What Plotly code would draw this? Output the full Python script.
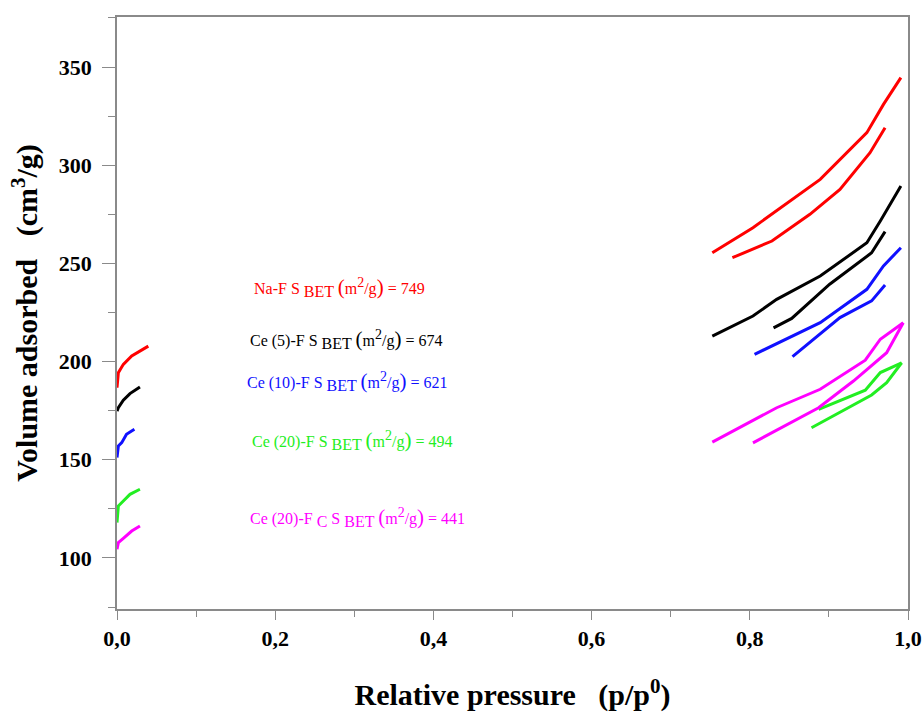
import plotly.graph_objects as go

# Low-pressure branches
lp_x = {
    "red": [0.0, 0.0017, 0.008, 0.0186, 0.0396],
    "black": [0.0, 0.0017, 0.008, 0.0164, 0.029],
    "blue": [0.0, 0.0017, 0.006, 0.012, 0.022],
    "green": [0.0, 0.0017, 0.008, 0.0164, 0.029],
    "magenta": [0.0, 0.0017, 0.008, 0.0186, 0.029],
}
lp_y = {
    "red": [186.7, 194.3, 198.6, 202.9, 207.9],
    "black": [174.8, 176.5, 180.3, 183.7, 187.1],
    "blue": [151.1, 157.0, 158.7, 163.0, 165.5],
    "green": [118.0, 126.5, 129.0, 132.4, 135.0],
    "magenta": [104.4, 107.8, 110.0, 113.7, 116.3],
}

# High-pressure branches (upper and lower curves)
hp_up_x = {
    "red": [0.7526, 0.804, 0.889, 0.948, 0.969, 0.991],
    "black": [0.7526, 0.804, 0.834, 0.889, 0.948, 0.965, 0.991],
    "blue": [0.806, 0.889, 0.948, 0.969, 0.991],
    "green": [0.887, 0.946, 0.965, 0.992],
    "magenta": [0.7526, 0.834, 0.889, 0.946, 0.965, 0.994],
}
hp_up_y = {
    "red": [255.4, 268.2, 292.8, 316.6, 331.0, 344.6],
    "black": [213.0, 223.2, 231.7, 243.6, 260.5, 271.6, 289.4],
    "blue": [203.7, 219.8, 236.8, 248.7, 258.0],
    "green": [175.7, 185.4, 194.4, 199.4],
    "magenta": [159.0, 176.5, 185.9, 200.7, 211.4, 219.8],
}
hp_lo_x = {
    "red": [0.778, 0.828, 0.876, 0.914, 0.952, 0.971],
    "black": [0.830, 0.853, 0.901, 0.954, 0.971],
    "blue": [0.854, 0.914, 0.954, 0.971],
    "green": [0.878, 0.954, 0.973, 0.992],
    "magenta": [0.804, 0.887, 0.931, 0.973, 0.994],
}
hp_lo_y = {
    "red": [252.9, 261.4, 275.0, 287.7, 306.4, 319.1],
    "black": [217.2, 222.0, 239.4, 255.4, 266.2],
    "blue": [202.5, 222.4, 230.9, 239.0],
    "green": [166.3, 183.0, 189.3, 199.4],
    "magenta": [158.6, 176.5, 190.1, 204.5, 219.8],
}

colors = {"red": "#ff0000", "black": "#000000", "blue": "#1010ff",
          "green": "#22ee22", "magenta": "#ff00ff"}

sample_names = ["Na-F", "Ce (5)-F", "Ce (10)-F", "Ce (20)-F",
                "Ce (20)-F <sub><span style='font-size:16px'>C</span></sub>"]
sbet_values = [749, 674, 621, 494, 441]
label_keys = ["red", "black", "blue", "green", "magenta"]
label_x = [0.171, 0.166, 0.162, 0.168, 0.166]
label_y = [237.5, 211.5, 190.1, 159.6, 120.4]

x_ticks = [0.0, 0.2, 0.4, 0.6, 0.8, 1.0]
x_ticklabels = ["0,0", "0,2", "0,4", "0,6", "0,8", "1,0"]
y_ticks = [100, 150, 200, 250, 300, 350]

fig = go.Figure()
for k in colors:
    for xs, ys in ((lp_x[k], lp_y[k]), (hp_up_x[k], hp_up_y[k]), (hp_lo_x[k], hp_lo_y[k])):
        fig.add_trace(go.Scatter(x=xs, y=ys, mode="lines",
                                 line=dict(color=colors[k], width=3),
                                 showlegend=False, hoverinfo="skip"))

for k, name, val, x, y in zip(label_keys, sample_names, sbet_values, label_x, label_y):
    txt = (f"{name} S <sub><span style='font-size:16px'>BET</span></sub> "
           f"<span style='font-size:21px'>(</span>m<sup><span style='font-size:14px'>2</span></sup>/g"
           f"<span style='font-size:21px'>)</span> = {val}")
    fig.add_annotation(x=x, y=y, xref="x", yref="y", text=txt, showarrow=False,
                       xanchor="left", yanchor="middle",
                       font=dict(family="Liberation Serif", size=16, color=colors[k]))

axis_common = dict(showgrid=False, zeroline=False, showline=True, linecolor="#8a8a8a",
                   linewidth=1.5, mirror=True, ticks="outside", tickcolor="#8a8a8a",
                   tickwidth=1.2, automargin=False,
                   tickfont=dict(family="Liberation Serif", size=22, color="black"))

fig.update_xaxes(range=[0, 1.0], tickvals=x_ticks, ticktext=[f"<b>{t}</b>" for t in x_ticklabels],
                 ticklen=9, ticklabeloverflow="allow",
                 title=dict(text="<b>Relative pressure   (p/p<sup>0</sup>)</b>",
                            font=dict(family="Liberation Serif", size=30, color="black"),
                            standoff=34),
                 minor=dict(ticks="outside", ticklen=6, tickcolor="#8a8a8a",
                            tickwidth=1.2, dtick=0.1, tick0=0),
                 **axis_common)
fig.update_yaxes(range=[74, 375.5], tickvals=y_ticks, ticktext=[f"<b>{t}</b>" for t in y_ticks],
                 ticklen=13, ticklabelstandoff=6,
                 title=dict(text="<b>Volume adsorbed   (cm<sup>3</sup>/g)</b>",
                            font=dict(family="Liberation Serif", size=30, color="black"),
                            standoff=12),
                 minor=dict(ticks="outside", ticklen=7, tickcolor="#8a8a8a",
                            tickwidth=1.2, dtick=25, tick0=75),
                 **axis_common)

fig.update_layout(width=923, height=720, plot_bgcolor="white", paper_bgcolor="white",
                  margin=dict(l=117, r=15, t=17, b=111), showlegend=False)

fig.write_html("out.html", config={"displayModeBar": False},
               post_script="document.body.style.margin='0';document.body.style.overflow='hidden';")
